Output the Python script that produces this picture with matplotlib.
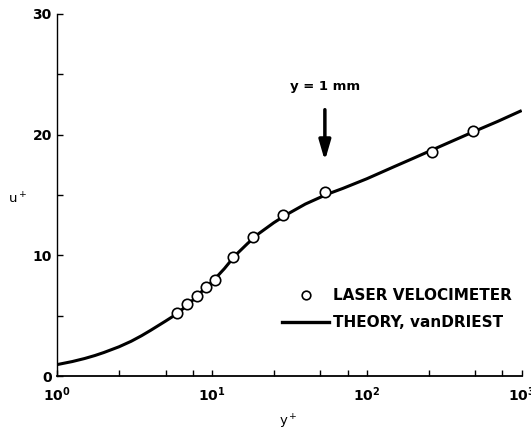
import numpy as np
import matplotlib
matplotlib.use('Agg')
import matplotlib.pyplot as plt
from matplotlib.lines import Line2D

plt.rcParams['font.family'] = ['DejaVu Sans']
plt.rcParams['mathtext.fontset'] = 'dejavusans'

### Laser velocimeter points
lv_yplus = [5.97, 6.92, 7.94, 9.07, 10.5, 13.6, 18.5, 28.6, 53.9, 263, 483]
lv_uplus = [5.19, 5.94, 6.65, 7.40, 7.95, 9.83, 11.54, 13.34, 15.22, 18.53, 20.32]

### van Driest theory curve
th_yplus = [1, 1.25, 1.5, 1.75, 2, 2.5, 3, 3.5, 4, 5, 6, 7, 8, 9, 10, 12, 14,
            17, 20, 25, 30, 40, 55, 70, 100, 150, 200, 300, 500, 700, 1000]
th_uplus = [0.95, 1.2, 1.45, 1.7, 1.95, 2.42, 2.88, 3.34, 3.78, 4.55, 5.2, 5.95,
            6.6, 7.3, 7.8, 8.9, 9.95, 11.0, 11.8, 12.7, 13.35, 14.25, 15.05,
            15.55, 16.35, 17.35, 18.05, 19.05, 20.3, 21.1, 22.0]

### arrow marking y = 1 mm
arrow_x = 53.5
arrow_top = 22.3
arrow_tip = 17.6

x_major = [1, 10, 100, 1000]
x_major_labels = [r'$\mathbf{10^{0}}$', r'$\mathbf{10^{1}}$', r'$\mathbf{10^{2}}$', r'$\mathbf{10^{3}}$']
x_minor = [2.5, 5, 7.5, 25, 50, 75, 250, 500, 750]
y_ticks = [0, 5, 10, 15, 20, 25, 30]
y_labels = ['0', '', '10', '', '20', '', '30']

fig = plt.figure(figsize=(5.31, 4.32), dpi=100)
ax = fig.add_axes([0.108, 0.1296, 0.8745, 0.838])

ax.semilogx(th_yplus, th_uplus, color='black', lw=2.2, solid_capstyle='butt', zorder=2)
ax.plot(lv_yplus, lv_uplus, 'o', ms=7.5, mfc='white', mec='black', mew=1.2, zorder=3)

ax.annotate('', xy=(arrow_x, arrow_tip), xytext=(arrow_x, arrow_top),
            arrowprops=dict(arrowstyle='-|>,head_width=0.35,head_length=1.2',
                            color='black', lw=2.5))
ax.text(arrow_x, 24.0, 'y = 1 mm', ha='center', va='center', fontsize=9.5,
        fontweight='bold')

ax.set_xlim(1, 1000)
ax.set_ylim(0, 30)

ax.spines['top'].set_visible(False)
ax.spines['right'].set_visible(False)
ax.spines['left'].set_linewidth(1.0)
ax.spines['bottom'].set_linewidth(1.3)

ax.set_xticks(x_major)
ax.set_xticklabels(x_major_labels, fontsize=10)
ax.set_xticks(x_minor, minor=True)
ax.xaxis.set_minor_formatter(plt.NullFormatter())
ax.tick_params(axis='x', which='both', direction='in', length=4, width=1.0, pad=7)

ax.set_yticks(y_ticks)
ax.set_yticklabels(y_labels, fontsize=10, fontweight='bold')
ax.tick_params(axis='y', which='both', direction='in', length=4, width=1.0, pad=4)

ax.set_xlabel(r'y$^+$', fontsize=9.5)
ax.xaxis.set_label_coords(0.497, -0.1)
ax.set_ylabel(r'u$^+$', fontsize=9.5, rotation=0)
ax.yaxis.set_label_coords(-0.085, 0.468)

handles = [Line2D([], [], ls='none', marker='o', ms=6.2, mfc='white', mec='black', mew=1.2),
           Line2D([], [], color='black', lw=2.4)]
ax.legend(handles, ['LASER VELOCIMETER', 'THEORY, vanDRIEST'], loc='upper left',
          bbox_to_anchor=(0.467, 0.263), frameon=False, borderpad=0,
          handlelength=3.1, handletextpad=0.25, labelspacing=0.75,
          prop={'size': 11, 'weight': 'bold'})

fig.savefig('out.png', dpi=100)
